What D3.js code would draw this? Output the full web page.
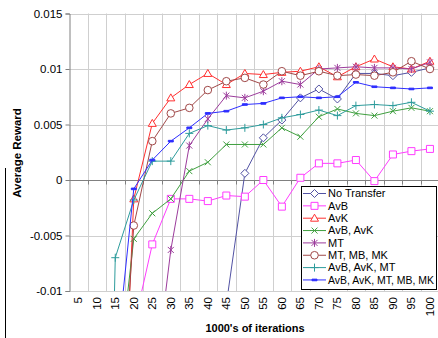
<!DOCTYPE html>
<html>
<head>
<meta charset="utf-8">
<script src="https://cdn.jsdelivr.net/npm/d3@7"></script>
<style>
  body { margin: 0; background: #fff; }
  svg { display: block; font-family: "Liberation Sans", Arial, sans-serif; }
</style>
</head>
<body>
<svg id="chart" width="438" height="338"></svg>
<script>
// category labels (1000's of iterations)
var categories = ["5","10","15","20","25","30","35","40","45","50","55","60","65","70","75","80","85","90","95","100"];
var yTicks = [-0.01, -0.005, 0, 0.005, 0.01, 0.015];

// values; early points sit below the axis minimum and get clipped
var noTransfer = [-0.2,-0.18,-0.15,-0.12,-0.09,-0.06,-0.04,-0.025,-0.0112,0.0006,0.0038,0.0054,0.0074,0.0082,0.0073,0.0096,0.0096,0.0094,0.0097,0.0101];
var avB        = [-0.1,-0.07,-0.04,-0.0132,-0.0058,-0.0017,-0.0017,-0.0019,-0.0014,-0.0015,0.0,-0.0024,0.0002,0.0015,0.0015,0.0018,-0.0001,0.0023,0.0026,0.0028];
var avK        = [-0.15,-0.1,-0.04,-0.0017,0.0051,0.0074,0.0086,0.0096,0.0086,0.0096,0.0095,0.0097,0.0098,0.0102,0.0093,0.0102,0.0109,0.0102,0.0100,0.0107];
var avBavK     = [-0.12,-0.08,-0.02,-0.0053,-0.003,-0.0017,0.0008,0.0016,0.0032,0.0032,0.0032,0.0047,0.0039,0.0057,0.0064,0.0060,0.0058,0.0062,0.0065,0.0062];
var mT         = [-0.15,-0.1,-0.06,-0.04,-0.020,-0.0063,0.0031,0.0055,0.0076,0.0074,0.0080,0.0089,0.0086,0.0100,0.0101,0.0102,0.0101,0.0101,0.0100,0.0106];
var mTmBmK     = [-0.15,-0.08,-0.03,-0.0041,0.0035,0.0060,0.0065,0.0081,0.0089,0.0092,0.0086,0.0098,0.0094,0.0098,0.0094,0.0095,0.0094,0.0097,0.0107,0.0100];
var avBavKmT   = [-0.15,-0.08,-0.0070,-0.0018,0.0017,0.0017,0.0042,0.0049,0.0045,0.0047,0.0050,0.0056,0.0059,0.0063,0.0058,0.0067,0.0068,0.0067,0.0070,0.0062];
var allFive    = [-0.15,-0.08,-0.017,-0.0008,0.0018,0.0035,0.0047,0.0060,0.0062,0.0068,0.0069,0.0074,0.0075,0.0074,0.0075,0.0088,0.0084,0.0083,0.0082,0.0083];

var seriesNames = ["No Transfer","AvB","AvK","AvB, AvK","MT","MT, MB, MK","AvB, AvK, MT","AvB, AvK, MT, MB, MK"];

// marker paths, centred on 0,0
var markers = {
	diamond: function() { return "M0,-4L4,0L0,4L-4,0Z"; },
	square: function() { return "M-3.5,-3.5H3.5V3.5H-3.5Z"; },
	triangle: function() { return "M0,-4L4,3L-4,3Z"; },
	ex: function() { return "M-3,-3L3,3M-3,3L3,-3"; },
	star: function() { return "M-3,-3L3,3M-3,3L3,-3M0,-4V4"; },
	circle: function() { return "M3.8,0A3.8,3.8 0 1,1 -3.8,0A3.8,3.8 0 1,1 3.8,0Z"; },
	plus: function() { return "M-4,0H4M0,-4V4"; },
	dash: function() { return "M-2.5,-0.8H2.5V0.8H-2.5Z"; }
};

var series = [
	{ name: seriesNames[0], values: noTransfer, color: "#5252a3", marker: "diamond", fill: "#fff" },
	{ name: seriesNames[1], values: avB,        color: "#ff3cff", marker: "square",  fill: "#fff" },
	{ name: seriesNames[2], values: avK,        color: "#ff3030", marker: "triangle",fill: "#fff" },
	{ name: seriesNames[3], values: avBavK,     color: "#3f9f3f", marker: "ex",      fill: "none" },
	{ name: seriesNames[4], values: mT,         color: "#9c3c9c", marker: "star",    fill: "none" },
	{ name: seriesNames[5], values: mTmBmK,     color: "#a04848", marker: "circle",  fill: "#fff" },
	{ name: seriesNames[6], values: avBavKmT,   color: "#2e9c9c", marker: "plus",    fill: "none" },
	{ name: seriesNames[7], values: allFive,    color: "#2e2eff", marker: "dash",    fill: "#2e2eff" }
];

var plotLeft = 69, plotTop = 13.5, plotBottom = 291, step = 18.51;

var svg = d3.select("#chart");

var x = d3.scaleBand().domain(categories).range([plotLeft, plotLeft + step * categories.length]).padding(0);
var y = d3.scaleLinear().domain([-0.01, 0.015]).range([plotBottom, plotTop]);
var cx = function(c) { return x(c) + x.bandwidth() / 2; };

svg.append("defs").append("clipPath").attr("id", "plotClip")
	.append("rect")
	.attr("x", plotLeft).attr("y", plotTop)
	.attr("width", 438 - plotLeft).attr("height", plotBottom - plotTop);

// outer chart frame (only the left edge is in view)
svg.append("line")
	.attr("x1", 5.5).attr("x2", 5.5).attr("y1", 168).attr("y2", 338)
	.attr("stroke", "#000").attr("stroke-width", 1);

// gridlines
var grid = svg.append("g").attr("stroke", "#cfcfcf").attr("stroke-width", 1);
grid.selectAll(".hg").data(yTicks).enter().append("line")
	.attr("x1", plotLeft).attr("x2", 438)
	.attr("y1", function(d) { return Math.round(y(d)) + 0.5; })
	.attr("y2", function(d) { return Math.round(y(d)) + 0.5; });
grid.selectAll(".vg").data(categories).enter().append("line")
	.attr("x1", function(d) { return Math.round(x(d) + x.bandwidth()) + 0.5; })
	.attr("x2", function(d) { return Math.round(x(d) + x.bandwidth()) + 0.5; })
	.attr("y1", plotTop).attr("y2", plotBottom);

// y axis
var yAxis = svg.append("g")
	.attr("transform", "translate(" + (plotLeft + 0.5) + ",0)")
	.call(d3.axisLeft(y).tickValues(yTicks).tickSize(4).tickPadding(3)
		.tickFormat(function(d) { return d === 0 ? "0" : String(d); }));
yAxis.select(".domain").attr("stroke", "#808080");
yAxis.selectAll(".tick line").attr("stroke", "#808080");
yAxis.selectAll(".tick text").attr("font-size", 11.5).attr("fill", "#000")
	.attr("font-family", "Liberation Sans, Arial, sans-serif");

// category axis crossing at zero
var zeroY = Math.round(y(0)) + 0.5;
svg.append("line")
	.attr("x1", plotLeft).attr("x2", 438).attr("y1", zeroY).attr("y2", zeroY)
	.attr("stroke", "#808080");
svg.selectAll(".xtick").data(categories).enter().append("line")
	.attr("x1", function(d) { return Math.round(x(d) + x.bandwidth()) + 0.5; })
	.attr("x2", function(d) { return Math.round(x(d) + x.bandwidth()) + 0.5; })
	.attr("y1", zeroY).attr("y2", zeroY + 4)
	.attr("stroke", "#808080");

// category labels, low position
svg.selectAll(".xlab").data(categories).enter().append("text")
	.attr("transform", function(d) { return "translate(" + cx(d) + ",297) rotate(-90)"; })
	.attr("text-anchor", "end").attr("dy", "0.35em")
	.attr("font-size", 11.5).attr("fill", "#000")
	.text(function(d) { return d; });

// axis titles
svg.append("text")
	.attr("transform", "translate(17,153) rotate(-90)")
	.attr("text-anchor", "middle").attr("dy", "0.35em")
	.attr("font-size", 11.5).attr("font-weight", "bold")
	.text("Average Reward");
svg.append("text")
	.attr("x", 255).attr("y", 332)
	.attr("text-anchor", "middle")
	.attr("font-size", 11).attr("font-weight", "bold")
	.text("1000's of iterations");

// series
var line = d3.line()
	.x(function(d, i) { return cx(categories[i]); })
	.y(function(d) { return y(d); });

var plot = svg.append("g").attr("clip-path", "url(#plotClip)");
series.forEach(function(s) {
	var g = plot.append("g");
	g.append("path")
		.datum(s.values)
		.attr("d", line)
		.attr("fill", "none")
		.attr("stroke", s.color)
		.attr("stroke-width", 1);
	g.selectAll(".m").data(s.values).enter().append("path")
		.attr("transform", function(d, i) { return "translate(" + cx(categories[i]) + "," + y(d) + ")"; })
		.attr("d", markers[s.marker])
		.attr("fill", s.fill)
		.attr("stroke", s.color)
		.attr("stroke-width", 1);
});

// legend
var legend = svg.append("g");
legend.append("rect")
	.attr("x", 301.5).attr("y", 186.5).attr("width", 135).attr("height", 103)
	.attr("fill", "#fff").attr("stroke", "#000");
var rows = legend.selectAll(".row").data(series).enter().append("g")
	.attr("transform", function(d, i) { return "translate(0," + (193.5 + i * 12.35) + ")"; });
rows.append("line")
	.attr("x1", 303).attr("x2", 326).attr("y1", 0).attr("y2", 0)
	.attr("stroke", function(d) { return d.color; });
rows.append("path")
	.attr("transform", "translate(314.5,0)")
	.attr("d", function(d) { return markers[d.marker](); })
	.attr("fill", function(d) { return d.fill; })
	.attr("stroke", function(d) { return d.color; });
rows.append("text")
	.attr("x", 328).attr("dy", "0.35em")
	.attr("font-size", 11).attr("fill", "#000")
	.text(function(d) { return d.name; })
	.each(function() {
		// the narrow M of the original keeps the long entries inside the box
		if (this.getComputedTextLength() > 106)
			d3.select(this).attr("textLength", 106).attr("lengthAdjust", "spacingAndGlyphs");
	});
</script>
</body>
</html>
